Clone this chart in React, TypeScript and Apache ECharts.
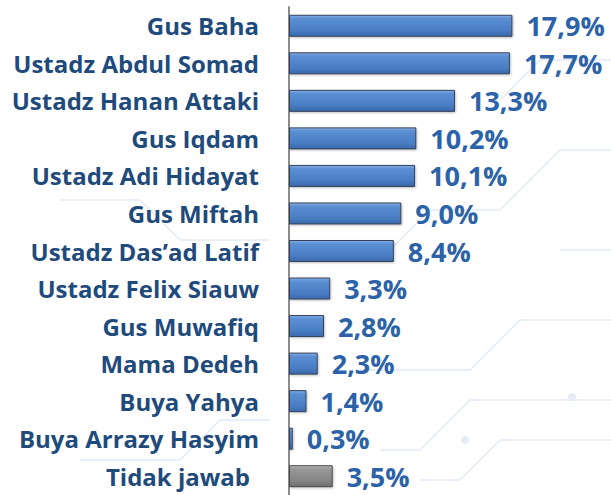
import React, { useEffect, useRef } from "react";
import * as echarts from "echarts";

const categories = [
  "Gus Baha",
  "Ustadz Abdul Somad",
  "Ustadz Hanan Attaki",
  "Gus Iqdam",
  "Ustadz Adi Hidayat",
  "Gus Miftah",
  "Ustadz Das’ad Latif",
  "Ustadz Felix Siauw",
  "Gus Muwafiq",
  "Mama Dedeh",
  "Buya Yahya",
  "Buya Arrazy Hasyim",
  "Tidak jawab",
];
const values = [17.9, 17.7, 13.3, 10.2, 10.1, 9.0, 8.4, 3.3, 2.8, 2.3, 1.4, 0.3, 3.5];
const grayCategory = "Tidak jawab";

const blueFill = new echarts.graphic.LinearGradient(0, 0, 0, 1, [
  { offset: 0, color: "#86afe3" },
  { offset: 0.15, color: "#5b8fd3" },
  { offset: 0.7, color: "#4a7ec4" },
  { offset: 1, color: "#3a69ab" },
]);
const grayFill = new echarts.graphic.LinearGradient(0, 0, 0, 1, [
  { offset: 0, color: "#b4b4b4" },
  { offset: 0.15, color: "#999999" },
  { offset: 0.7, color: "#858585" },
  { offset: 1, color: "#6e6e6e" },
]);

const FONT = "Open Sans";

export default function App() {
  const ref = useRef<HTMLDivElement>(null);
  useEffect(() => {
    if (!ref.current) return;
    const chart = echarts.init(ref.current, undefined, { renderer: "svg" });
    const lineStyle = { stroke: "#e9eff6", lineWidth: 2, fill: "none" };
    chart.setOption({
      animation: false,
      backgroundColor: "#ffffff",
      graphic: [
        { type: "polyline", silent: true, z: -10, shape: { points: [[611, 150], [560, 150], [500, 210], [430, 210], [380, 260]] }, style: lineStyle },
        { type: "polyline", silent: true, z: -10, shape: { points: [[611, 320], [520, 320], [470, 370], [360, 370]] }, style: lineStyle },
        { type: "polyline", silent: true, z: -10, shape: { points: [[611, 400], [470, 400], [420, 450], [380, 450]] }, style: lineStyle },
        { type: "polyline", silent: true, z: -10, shape: { points: [[611, 440], [500, 440], [460, 480], [420, 480]] }, style: lineStyle },
        { type: "polyline", silent: true, z: -10, shape: { points: [[611, 60], [540, 60], [500, 100]] }, style: lineStyle },
        { type: "polyline", silent: true, z: -10, shape: { points: [[560, 250], [611, 250]] }, style: lineStyle },
        { type: "polyline", silent: true, z: -10, shape: { points: [[60, 200], [140, 200], [180, 240], [270, 240]] }, style: lineStyle },
        { type: "polyline", silent: true, z: -10, shape: { points: [[80, 460], [180, 460], [220, 420], [270, 420]] }, style: lineStyle },
        { type: "circle", silent: true, z: -10, shape: { cx: 572, cy: 397, r: 4 }, style: { fill: "#e5ecf4" } },
        { type: "circle", silent: true, z: -10, shape: { cx: 465, cy: 440, r: 4 }, style: { fill: "#e5ecf4" } },
      ],
      grid: { left: 289, right: 0, top: 7, height: 494, containLabel: false },
      xAxis: {
        type: "value",
        min: 0,
        max: 25.8,
        show: false,
      },
      yAxis: {
        type: "category",
        data: categories,
        inverse: true,
        axisLine: { show: true, lineStyle: { color: "#8c8c8c", width: 2 } },
        axisTick: { show: false },
        splitLine: { show: false },
        axisLabel: {
          margin: 30,
          color: "#1f4a7c",
          fontFamily: FONT,
          fontWeight: "bold",
          fontSize: 24,
          formatter: (v: string) => (v === grayCategory ? `{p|${v}}` : v),
          rich: {
            p: {
              color: "#1f4a7c",
              fontFamily: FONT,
              fontWeight: "bold",
              fontSize: 24,
              padding: [0, 9, 0, 0],
            },
          },
        },
      },
      series: [
        {
          type: "bar",
          barWidth: 22,
          data: values.map((v, i) => ({
            value: v,
            itemStyle: {
              color: categories[i] === grayCategory ? grayFill : blueFill,
              borderColor: categories[i] === grayCategory ? "#4a4a4a" : "#34425a",
              borderWidth: 1,
              shadowColor: "rgba(0,0,0,0.25)",
              shadowBlur: 2,
              shadowOffsetX: 1,
              shadowOffsetY: 1,
            },
          })),
          label: {
            show: true,
            position: "right",
            distance: 14,
            color: "#2b62a8",
            fontFamily: FONT,
            fontWeight: "bold",
            fontSize: 27,
            formatter: (p: any) => p.value.toFixed(1).replace(".", ",") + "%",
          },
        },
      ],
    });
    return () => chart.dispose();
  }, []);
  return (
    <div
      ref={ref}
      style={{ position: "fixed", left: 0, top: 0, width: 611, height: 495, background: "#fff" }}
    />
  );
}
